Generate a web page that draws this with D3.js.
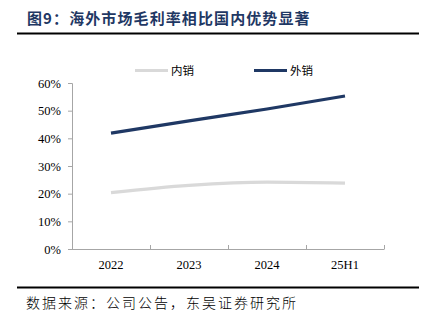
<!DOCTYPE html>
<html><head><meta charset="utf-8">
<script src="https://cdn.jsdelivr.net/npm/d3@7"></script>
<style>
html,body{margin:0;padding:0;background:#fff;}
svg{display:block;}
</style></head>
<body>
<svg id="c" width="425" height="323"></svg>
<script>
const categories = ["2022","2023","2024","25H1"];
const domestic = [20.4, 23.0, 24.2, 23.8];
const overseas = [41.9, 46.3, 50.6, 55.3];
const yTicks = [0,10,20,30,40,50,60];
const seriesNames = ["内销","外销"];
const seriesColors = ["#d9d9d9","#1f3864"];
const titleText = "图9：海外市场毛利率相比国内优势显著";
const sourceText = "数据来源：公司公告，东吴证券研究所";

const svg = d3.select("#c");
const cjk = "'Noto Sans CJK SC', sans-serif";
const serif = "'Liberation Serif', 'Times New Roman', serif";

// title
svg.append("text").attr("x",27).attr("y",24)
  .style("font-family",cjk).attr("font-size",15).attr("font-weight","bold")
  .attr("letter-spacing",1.1).attr("fill","#1f3864").text(titleText);
svg.append("line").attr("x1",17).attr("x2",419).attr("y1",33.5).attr("y2",33.5)
  .attr("stroke","#000").attr("stroke-width",2);

const x = d3.scaleBand().domain(categories).range([72,384]).padding(0);
const y = d3.scaleLinear().domain([0,60]).range([249,83]);

// y axis
const yAxis = d3.axisLeft(y).tickValues(yTicks).tickFormat(d=>d+"%").tickSize(4).tickPadding(7);
const gy = svg.append("g").attr("transform","translate(72,0)").call(yAxis);
gy.select(".domain").attr("stroke","#a6a6a6").attr("d","M-4,83.5H0.5V249.5");
gy.selectAll(".tick line").attr("stroke","#a6a6a6");
gy.selectAll(".tick text").style("font-family",serif).style("font-size","12.5px").attr("fill","#000");

// x axis
const xAxis = d3.axisBottom(x).tickSize(0).tickPadding(11);
const gx = svg.append("g").attr("transform","translate(0,249)").call(xAxis);
gx.select(".domain").attr("stroke","#a6a6a6").attr("d","M72,0.5H384.5");
gx.selectAll(".tick text").style("font-family",serif).style("font-size","12.5px").attr("fill","#000");
const bounds = categories.map(c=>x(c)+x.bandwidth());
gx.selectAll(".bt").data(bounds).enter().append("line")
  .attr("x1",d=>d+0.5).attr("x2",d=>d+0.5).attr("y1",0).attr("y2",-4)
  .attr("stroke","#a6a6a6");

// lines
const line = d3.line().x((d,i)=>x(categories[i])+x.bandwidth()/2).y(d=>y(d)).curve(d3.curveMonotoneX);
[domestic, overseas].forEach((s,i)=>{
  svg.append("path").datum(s).attr("d",line).attr("fill","none")
    .attr("stroke",seriesColors[i]).attr("stroke-width",3.2);
});

// legend
const legX = [135,254];
seriesNames.forEach((n,i)=>{
  svg.append("line").attr("x1",legX[i]).attr("x2",legX[i]+33).attr("y1",70.5).attr("y2",70.5)
    .attr("stroke",seriesColors[i]).attr("stroke-width",3.2);
  svg.append("text").attr("x",legX[i]+36).attr("y",75).style("font-family",cjk)
    .attr("font-size",11.5).attr("fill","#000").text(n);
});

// bottom rule & source
svg.append("line").attr("x1",17).attr("x2",419).attr("y1",287.5).attr("y2",287.5)
  .attr("stroke","#000").attr("stroke-width",2);
svg.append("text").attr("x",26).attr("y",308).style("font-family",cjk)
  .attr("font-size",14).attr("font-weight",300).attr("letter-spacing",2).attr("fill","#000").text(sourceText);
</script>
</body></html>
